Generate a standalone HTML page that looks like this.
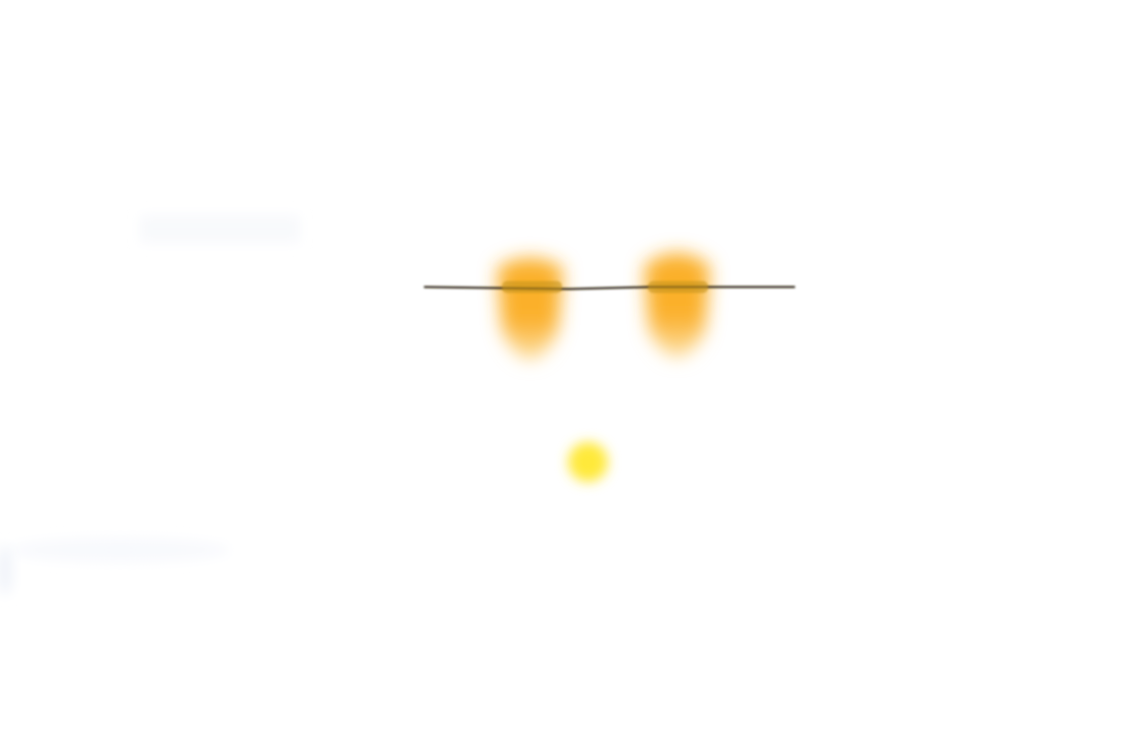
<!DOCTYPE html>
<html><head><meta charset="utf-8"><style>html,body{margin:0;padding:0;background:#fff;width:1136px;height:745px;overflow:hidden}</style></head>
<body>
<svg width="1136" height="745" viewBox="0 0 1136 745" xmlns="http://www.w3.org/2000/svg">
<defs>
<filter id="b8" x="-50%" y="-50%" width="200%" height="200%"><feGaussianBlur stdDeviation="9"/></filter>
<filter id="b6" x="-50%" y="-50%" width="200%" height="200%"><feGaussianBlur stdDeviation="6"/></filter>
<filter id="b1" x="-10%" y="-200%" width="120%" height="500%"><feGaussianBlur stdDeviation="1"/></filter>
<filter id="b4" x="-50%" y="-50%" width="200%" height="200%"><feGaussianBlur stdDeviation="6"/></filter>
<linearGradient id="og" x1="0" y1="0" x2="0" y2="1">
<stop offset="0" stop-color="#fbb02a"/><stop offset="0.6" stop-color="#fbb02a"/><stop offset="1" stop-color="#fde2a8"/></linearGradient>
</defs>
<rect width="1136" height="745" fill="#fff"/>
<rect x="140" y="215" width="160" height="28" fill="#f8f9fc" filter="url(#b4)"/>
<ellipse cx="120" cy="550" rx="110" ry="12" fill="#f8f9fd" filter="url(#b6)"/>
<ellipse cx="5" cy="570" rx="8" ry="25" fill="#f1f4fa" filter="url(#b6)"/>
<path d="M497 268 Q530 248 563 268 L558 330 Q530 390 502 330 Z" fill="url(#og)" filter="url(#b8)"/>
<path d="M644 266 Q677 240 710 266 L705 330 Q677 385 649 330 Z" fill="url(#og)" filter="url(#b8)"/>
<path d="M424 287 L570 289 L650 287 L795 287" stroke="#2a2010" stroke-width="2" fill="none" filter="url(#b1)"/>
<rect x="502" y="281" width="60" height="12" rx="5" fill="#c8951e" opacity="0.6" filter="url(#b1)"/>
<rect x="648" y="281" width="60" height="12" rx="5" fill="#c8951e" opacity="0.6" filter="url(#b1)"/>
<circle cx="588" cy="462" r="20" fill="#ffe93a" filter="url(#b6)"/>
</svg>
</body></html>
